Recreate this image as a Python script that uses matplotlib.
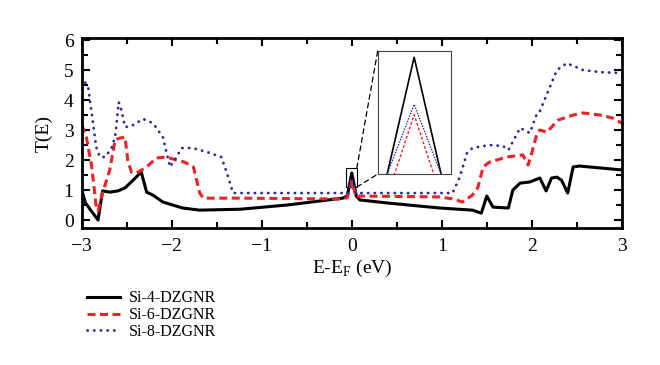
import matplotlib.pyplot as plt
import numpy as np
from matplotlib.patches import Rectangle, ConnectionPatch
from matplotlib.ticker import MultipleLocator

plt.rcParams['font.family'] = ['Liberation Serif', 'DejaVu Serif']
plt.rcParams['mathtext.fontset'] = 'custom'
plt.rcParams['mathtext.rm'] = 'Liberation Serif'

# Si-4-DZGNR
e4 = [-3.0, -2.96, -2.82, -2.77, -2.69, -2.6, -2.52, -2.43, -2.34, -2.28, -2.21,
      -2.1, -1.99, -1.88, -1.69, -1.24, -0.72, -0.1, -0.05, 0.0, 0.05, 0.09, 0.39,
      0.98, 1.34, 1.44, 1.5, 1.57, 1.74, 1.79, 1.87, 1.98, 2.09, 2.16, 2.22, 2.28,
      2.33, 2.4, 2.46, 2.53, 3.0]
t4 = [1.0, 0.57, 0.0, 0.97, 0.93, 0.97, 1.07, 1.33, 1.6, 0.93, 0.83,
      0.6, 0.5, 0.4, 0.33, 0.36, 0.5, 0.73, 0.8, 1.57, 0.8, 0.67, 0.57,
      0.4, 0.33, 0.23, 0.8, 0.43, 0.4, 1.0, 1.23, 1.27, 1.4, 0.97, 1.4, 1.43,
      1.33, 0.9, 1.77, 1.8, 1.67]

# Si-6-DZGNR
e6 = [-3.0, -2.95, -2.89, -2.84, -2.82, -2.77, -2.69, -2.63, -2.58, -2.52, -2.49,
      -2.45, -2.39, -2.28, -2.17, -2.06, -1.95, -1.86, -1.76, -1.69, -1.65, -1.24,
      -0.1, -0.05, 0.0, 0.05, 0.09, 0.98, 1.13, 1.23, 1.34, 1.4, 1.46, 1.53, 1.72,
      1.9, 1.96, 2.0, 2.06, 2.09, 2.17, 2.29, 2.46, 2.57, 2.76, 2.9, 3.0]
t6 = [3.17, 2.77, 1.77, 0.43, 0.3, 0.9, 1.67, 2.67, 2.73, 2.77, 2.0,
      1.6, 1.57, 1.77, 2.07, 2.1, 2.0, 1.93, 1.77, 0.9, 0.73, 0.73,
      0.7, 0.75, 1.29, 0.75, 0.8, 0.77, 0.7, 0.6, 0.83, 1.07, 1.77, 1.93, 2.1,
      2.17, 1.83, 2.23, 2.9, 3.0, 2.93, 3.33, 3.5, 3.57, 3.5, 3.4, 3.23]

# Si-8-DZGNR
e8 = [-3.0, -2.93, -2.88, -2.84, -2.8, -2.74, -2.67, -2.63, -2.59, -2.56, -2.52,
      -2.45, -2.32, -2.21, -2.1, -2.02, -1.97, -1.89, -1.77, -1.61, -1.45, -1.38,
      -1.32, -0.1, -0.05, 0.0, 0.05, 0.09, 1.12, 1.2, 1.28, 1.34, 1.53, 1.68, 1.74,
      1.87, 1.98, 2.06, 2.09, 2.28, 2.39, 2.57, 2.76, 3.0]
t8 = [4.77, 4.43, 3.33, 2.43, 2.1, 2.1, 2.4, 2.77, 3.93, 3.67, 3.1,
      3.13, 3.37, 3.23, 2.77, 1.77, 2.0, 2.4, 2.4, 2.27, 2.1, 1.5,
      0.9, 0.9, 0.88, 1.34, 0.88, 0.9, 0.9, 1.43, 2.23, 2.4, 2.5, 2.47, 2.33,
      3.07, 2.9, 3.57, 3.63, 5.0, 5.23, 5.0, 4.93, 4.9]

labels = ['Si-4-DZGNR', 'Si-6-DZGNR', 'Si-8-DZGNR']
xticks = [-3, -2, -1, 0, 1, 2, 3]
xticklabels = ['\u22123', '\u22122', '\u22121', '0', '1', '2', '3']

fig = plt.figure(figsize=(6.6, 3.65), dpi=100)
ax = fig.add_axes([0.124, 0.375, 0.818, 0.521])

l1, = ax.plot(e4, t4, color='black', lw=2.2)
l2, = ax.plot(e6, t6, color='#ee2222', lw=2.2, ls=(0, (2.6, 1.5)))
l3, = ax.plot(e8, t8, color='#2b2b9c', lw=2.0, ls=(0, (0.1, 2.3)),
              dash_capstyle='round')

ax.set_xlim(-3, 3)
ax.set_ylim(-0.27, 6.07)
ax.xaxis.set_minor_locator(MultipleLocator(0.5))
ax.yaxis.set_major_locator(MultipleLocator(1))
ax.yaxis.set_minor_locator(MultipleLocator(0.5))
ax.tick_params(which='both', direction='in', top=True, right=True, width=1.5,
               labelsize=14)
ax.tick_params(which='major', length=6)
ax.tick_params(which='minor', length=4)
ax.tick_params(axis='x', pad=7)
ax.tick_params(axis='y', pad=6)
for s in ax.spines.values():
    s.set_linewidth(2)
ax.set_xticks(xticks)
ax.set_xticklabels(xticklabels)
ax.set_ylabel('T(E)', fontsize=14, labelpad=8)
ax.set_xlabel('E-E$_\\mathrm{F}$ (eV)', fontsize=14, labelpad=2)

# zoom box
x0, x1, y0, y1 = -0.067, 0.056, 1.1, 1.73
ax.add_patch(Rectangle((x0, y0), x1 - x0, y1 - y0, fill=False, ec='black', lw=0.8))

axin = ax.inset_axes([0.548, 0.284, 0.135, 0.647])
axin.plot(e4, t4, color='black', lw=1.2)
axin.plot(e6, t6, color='#ee2222', lw=1.0, ls=(0, (2, 1.5)))
axin.plot(e8, t8, color='#2b2b9c', lw=1.0, ls=(0, (1, 1)))
axin.set_xlim(-0.05, 0.05)
axin.set_ylim(1.0, 1.6)
axin.set_xticks([])
axin.set_yticks([])
for s in axin.spines.values():
    s.set_linewidth(0.8)
    s.set_color('#444444')

for (xa, ya), (xb, yb) in [((x1, y1), (0, 1)), ((x1, y0), (0, 0))]:
    cp = ConnectionPatch(xyA=(xa, ya), coordsA=ax.transData,
                         xyB=(xb, yb), coordsB=axin.transAxes,
                         ls=(0, (4, 3)), color='black', lw=0.9)
    fig.add_artist(cp)

fig.legend([l1, l2, l3], labels, loc='upper left', bbox_to_anchor=(0.122, 0.222),
           frameon=False, fontsize=11.5, handlelength=2.1, labelspacing=0.05,
           handletextpad=0.5, borderaxespad=0)

fig.savefig('out.png', dpi=100)
